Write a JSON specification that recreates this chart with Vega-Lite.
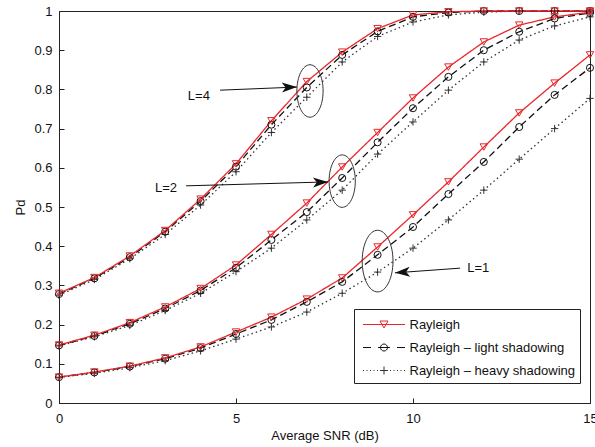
{
"$schema": "https://vega.github.io/schema/vega-lite/v6.json",
"width": 531, "height": 392,
"autosize": {"type": "none"},
"padding": {"left": 59, "top": 11, "right": 5, "bottom": 44},
"background": "white",
"config": {
  "font": "Liberation Sans",
  "view": {"stroke": "#222", "strokeWidth": 1},
  "axis": {"labelFontSize": 13, "titleFontSize": 13, "titleFontWeight": "normal", "labelColor": "#111", "titleColor": "#111", "domainColor": "#222", "tickColor": "#222", "grid": false, "labelFont": "Liberation Sans", "titleFont": "Liberation Sans", "tickSize": -5, "labelPadding": 14, "labelOverlap": false, "labelFlush": false}
},
"datasets": {
  "curves": [
    {"model":"Rayleigh – heavy shadowing","L":4,"x":0,"pd":0.275},{"model":"Rayleigh – heavy shadowing","L":4,"x":1,"pd":0.315},{"model":"Rayleigh – heavy shadowing","L":4,"x":2,"pd":0.368},{"model":"Rayleigh – heavy shadowing","L":4,"x":3,"pd":0.43},{"model":"Rayleigh – heavy shadowing","L":4,"x":4,"pd":0.505},{"model":"Rayleigh – heavy shadowing","L":4,"x":5,"pd":0.59},{"model":"Rayleigh – heavy shadowing","L":4,"x":6,"pd":0.69},{"model":"Rayleigh – heavy shadowing","L":4,"x":7,"pd":0.78},{"model":"Rayleigh – heavy shadowing","L":4,"x":8,"pd":0.87},{"model":"Rayleigh – heavy shadowing","L":4,"x":9,"pd":0.935},{"model":"Rayleigh – heavy shadowing","L":4,"x":10,"pd":0.972},{"model":"Rayleigh – heavy shadowing","L":4,"x":11,"pd":0.99},{"model":"Rayleigh – heavy shadowing","L":4,"x":12,"pd":0.997},{"model":"Rayleigh – heavy shadowing","L":4,"x":13,"pd":1},{"model":"Rayleigh – heavy shadowing","L":4,"x":14,"pd":1},{"model":"Rayleigh – heavy shadowing","L":4,"x":15,"pd":1},
    {"model":"Rayleigh – heavy shadowing","L":2,"x":0,"pd":0.146},{"model":"Rayleigh – heavy shadowing","L":2,"x":1,"pd":0.169},{"model":"Rayleigh – heavy shadowing","L":2,"x":2,"pd":0.198},{"model":"Rayleigh – heavy shadowing","L":2,"x":3,"pd":0.236},{"model":"Rayleigh – heavy shadowing","L":2,"x":4,"pd":0.28},{"model":"Rayleigh – heavy shadowing","L":2,"x":5,"pd":0.335},{"model":"Rayleigh – heavy shadowing","L":2,"x":6,"pd":0.395},{"model":"Rayleigh – heavy shadowing","L":2,"x":7,"pd":0.467},{"model":"Rayleigh – heavy shadowing","L":2,"x":8,"pd":0.543},{"model":"Rayleigh – heavy shadowing","L":2,"x":9,"pd":0.635},{"model":"Rayleigh – heavy shadowing","L":2,"x":10,"pd":0.717},{"model":"Rayleigh – heavy shadowing","L":2,"x":11,"pd":0.798},{"model":"Rayleigh – heavy shadowing","L":2,"x":12,"pd":0.87},{"model":"Rayleigh – heavy shadowing","L":2,"x":13,"pd":0.926},{"model":"Rayleigh – heavy shadowing","L":2,"x":14,"pd":0.962},{"model":"Rayleigh – heavy shadowing","L":2,"x":15,"pd":0.985},
    {"model":"Rayleigh – heavy shadowing","L":1,"x":0,"pd":0.065},{"model":"Rayleigh – heavy shadowing","L":1,"x":1,"pd":0.076},{"model":"Rayleigh – heavy shadowing","L":1,"x":2,"pd":0.09},{"model":"Rayleigh – heavy shadowing","L":1,"x":3,"pd":0.108},{"model":"Rayleigh – heavy shadowing","L":1,"x":4,"pd":0.133},{"model":"Rayleigh – heavy shadowing","L":1,"x":5,"pd":0.163},{"model":"Rayleigh – heavy shadowing","L":1,"x":6,"pd":0.194},{"model":"Rayleigh – heavy shadowing","L":1,"x":7,"pd":0.232},{"model":"Rayleigh – heavy shadowing","L":1,"x":8,"pd":0.28},{"model":"Rayleigh – heavy shadowing","L":1,"x":9,"pd":0.334},{"model":"Rayleigh – heavy shadowing","L":1,"x":10,"pd":0.395},{"model":"Rayleigh – heavy shadowing","L":1,"x":11,"pd":0.467},{"model":"Rayleigh – heavy shadowing","L":1,"x":12,"pd":0.543},{"model":"Rayleigh – heavy shadowing","L":1,"x":13,"pd":0.622},{"model":"Rayleigh – heavy shadowing","L":1,"x":14,"pd":0.7},{"model":"Rayleigh – heavy shadowing","L":1,"x":15,"pd":0.777},
    {"model":"Rayleigh – light shadowing","L":4,"x":0,"pd":0.278},{"model":"Rayleigh – light shadowing","L":4,"x":1,"pd":0.318},{"model":"Rayleigh – light shadowing","L":4,"x":2,"pd":0.372},{"model":"Rayleigh – light shadowing","L":4,"x":3,"pd":0.437},{"model":"Rayleigh – light shadowing","L":4,"x":4,"pd":0.515},{"model":"Rayleigh – light shadowing","L":4,"x":5,"pd":0.603},{"model":"Rayleigh – light shadowing","L":4,"x":6,"pd":0.71},{"model":"Rayleigh – light shadowing","L":4,"x":7,"pd":0.805},{"model":"Rayleigh – light shadowing","L":4,"x":8,"pd":0.888},{"model":"Rayleigh – light shadowing","L":4,"x":9,"pd":0.948},{"model":"Rayleigh – light shadowing","L":4,"x":10,"pd":0.985},{"model":"Rayleigh – light shadowing","L":4,"x":11,"pd":0.996},{"model":"Rayleigh – light shadowing","L":4,"x":12,"pd":1},{"model":"Rayleigh – light shadowing","L":4,"x":13,"pd":1},{"model":"Rayleigh – light shadowing","L":4,"x":14,"pd":1},{"model":"Rayleigh – light shadowing","L":4,"x":15,"pd":1},
    {"model":"Rayleigh – light shadowing","L":2,"x":0,"pd":0.147},{"model":"Rayleigh – light shadowing","L":2,"x":1,"pd":0.171},{"model":"Rayleigh – light shadowing","L":2,"x":2,"pd":0.202},{"model":"Rayleigh – light shadowing","L":2,"x":3,"pd":0.241},{"model":"Rayleigh – light shadowing","L":2,"x":4,"pd":0.287},{"model":"Rayleigh – light shadowing","L":2,"x":5,"pd":0.345},{"model":"Rayleigh – light shadowing","L":2,"x":6,"pd":0.416},{"model":"Rayleigh – light shadowing","L":2,"x":7,"pd":0.487},{"model":"Rayleigh – light shadowing","L":2,"x":8,"pd":0.574},{"model":"Rayleigh – light shadowing","L":2,"x":9,"pd":0.665},{"model":"Rayleigh – light shadowing","L":2,"x":10,"pd":0.752},{"model":"Rayleigh – light shadowing","L":2,"x":11,"pd":0.832},{"model":"Rayleigh – light shadowing","L":2,"x":12,"pd":0.9},{"model":"Rayleigh – light shadowing","L":2,"x":13,"pd":0.947},{"model":"Rayleigh – light shadowing","L":2,"x":14,"pd":0.981},{"model":"Rayleigh – light shadowing","L":2,"x":15,"pd":0.995},
    {"model":"Rayleigh – light shadowing","L":1,"x":0,"pd":0.066},{"model":"Rayleigh – light shadowing","L":1,"x":1,"pd":0.078},{"model":"Rayleigh – light shadowing","L":1,"x":2,"pd":0.093},{"model":"Rayleigh – light shadowing","L":1,"x":3,"pd":0.113},{"model":"Rayleigh – light shadowing","L":1,"x":4,"pd":0.14},{"model":"Rayleigh – light shadowing","L":1,"x":5,"pd":0.176},{"model":"Rayleigh – light shadowing","L":1,"x":6,"pd":0.212},{"model":"Rayleigh – light shadowing","L":1,"x":7,"pd":0.258},{"model":"Rayleigh – light shadowing","L":1,"x":8,"pd":0.309},{"model":"Rayleigh – light shadowing","L":1,"x":9,"pd":0.378},{"model":"Rayleigh – light shadowing","L":1,"x":10,"pd":0.449},{"model":"Rayleigh – light shadowing","L":1,"x":11,"pd":0.533},{"model":"Rayleigh – light shadowing","L":1,"x":12,"pd":0.615},{"model":"Rayleigh – light shadowing","L":1,"x":13,"pd":0.704},{"model":"Rayleigh – light shadowing","L":1,"x":14,"pd":0.786},{"model":"Rayleigh – light shadowing","L":1,"x":15,"pd":0.855},
    {"model":"Rayleigh","L":4,"x":0,"pd":0.28},{"model":"Rayleigh","L":4,"x":1,"pd":0.32},{"model":"Rayleigh","L":4,"x":2,"pd":0.375},{"model":"Rayleigh","L":4,"x":3,"pd":0.44},{"model":"Rayleigh","L":4,"x":4,"pd":0.52},{"model":"Rayleigh","L":4,"x":5,"pd":0.61},{"model":"Rayleigh","L":4,"x":6,"pd":0.72},{"model":"Rayleigh","L":4,"x":7,"pd":0.82},{"model":"Rayleigh","L":4,"x":8,"pd":0.895},{"model":"Rayleigh","L":4,"x":9,"pd":0.955},{"model":"Rayleigh","L":4,"x":10,"pd":0.99},{"model":"Rayleigh","L":4,"x":11,"pd":0.998},{"model":"Rayleigh","L":4,"x":12,"pd":1},{"model":"Rayleigh","L":4,"x":13,"pd":1},{"model":"Rayleigh","L":4,"x":14,"pd":1},{"model":"Rayleigh","L":4,"x":15,"pd":1},
    {"model":"Rayleigh","L":2,"x":0,"pd":0.148},{"model":"Rayleigh","L":2,"x":1,"pd":0.173},{"model":"Rayleigh","L":2,"x":2,"pd":0.205},{"model":"Rayleigh","L":2,"x":3,"pd":0.245},{"model":"Rayleigh","L":2,"x":4,"pd":0.292},{"model":"Rayleigh","L":2,"x":5,"pd":0.352},{"model":"Rayleigh","L":2,"x":6,"pd":0.43},{"model":"Rayleigh","L":2,"x":7,"pd":0.51},{"model":"Rayleigh","L":2,"x":8,"pd":0.602},{"model":"Rayleigh","L":2,"x":9,"pd":0.69},{"model":"Rayleigh","L":2,"x":10,"pd":0.778},{"model":"Rayleigh","L":2,"x":11,"pd":0.857},{"model":"Rayleigh","L":2,"x":12,"pd":0.921},{"model":"Rayleigh","L":2,"x":13,"pd":0.964},{"model":"Rayleigh","L":2,"x":14,"pd":0.985},{"model":"Rayleigh","L":2,"x":15,"pd":0.997},
    {"model":"Rayleigh","L":1,"x":0,"pd":0.066},{"model":"Rayleigh","L":1,"x":1,"pd":0.079},{"model":"Rayleigh","L":1,"x":2,"pd":0.094},{"model":"Rayleigh","L":1,"x":3,"pd":0.115},{"model":"Rayleigh","L":1,"x":4,"pd":0.143},{"model":"Rayleigh","L":1,"x":5,"pd":0.181},{"model":"Rayleigh","L":1,"x":6,"pd":0.219},{"model":"Rayleigh","L":1,"x":7,"pd":0.265},{"model":"Rayleigh","L":1,"x":8,"pd":0.319},{"model":"Rayleigh","L":1,"x":9,"pd":0.398},{"model":"Rayleigh","L":1,"x":10,"pd":0.48},{"model":"Rayleigh","L":1,"x":11,"pd":0.564},{"model":"Rayleigh","L":1,"x":12,"pd":0.653},{"model":"Rayleigh","L":1,"x":13,"pd":0.74},{"model":"Rayleigh","L":1,"x":14,"pd":0.816},{"model":"Rayleigh","L":1,"x":15,"pd":0.888}
  ],
  "ann": [
    {"L":4,"label":"L=4","lx":3.64,"ly":0.783,"ax1":4.55,"ay1":0.798,"ax2":6.72,"ay2":0.806,"ex":7.09,"ey":0.796},
    {"L":2,"label":"L=2","lx":2.71,"ly":0.548,"ax1":3.59,"ay1":0.554,"ax2":7.6,"ay2":0.564,"ex":8.0,"ey":0.566},
    {"L":1,"label":"L=1","lx":11.53,"ly":0.344,"ax1":11.33,"ay1":0.344,"ax2":9.49,"ay2":0.332,"ex":9.0,"ey":0.362}
  ],
  "keyrows": [
    {"series": "Rayleigh"}, {"series": "Rayleigh – light shadowing"}, {"series": "Rayleigh – heavy shadowing"}
  ]
},
"layer": [
  {
    "data": {"name": "curves"},
    "mark": {"type": "line", "strokeWidth": 1.3, "clip": false},
    "encoding": {
      "x": {"field": "x", "type": "quantitative", "scale": {"domain": [0, 15], "nice": false, "zero": false}, "axis": {"orient": "bottom", "values": [0, 5, 10, 15], "tickCount": 20, "title": "Average SNR (dB)", "titlePadding": 4, "labelOverlap": false}},
      "y": {"field": "pd", "type": "quantitative", "scale": {"domain": [0, 1], "nice": false}, "axis": {"orient": "left", "values": [0, 0.1, 0.2, 0.3, 0.4, 0.5, 0.6, 0.7, 0.8, 0.9, 1], "tickCount": 20, "format": "~g", "title": "Pd", "titlePadding": 6, "labelOverlap": false, "labelPadding": 12}},
      "color": {"field": "model", "type": "nominal", "scale": {"range": ["#e8262b", "#333333", "#111111"]}, "legend": null},
      "strokeDash": {"field": "model", "type": "nominal", "scale": {"range": [[1, 0], [1.5, 3], [7, 4]]}, "legend": null},
      "detail": {"field": "L", "type": "nominal"}
    }
  },
  {
    "data": {"name": "curves"},
    "transform": [{"filter": "datum.model === 'Rayleigh – heavy shadowing'"}],
    "mark": {"type": "point", "filled": false, "shape": "M-1,0L1,0M0,-1L0,1", "size": 55, "strokeWidth": 1, "opacity": 1, "color": "#333333", "clip": false},
    "encoding": {"x": {"field": "x", "type": "quantitative"}, "y": {"field": "pd", "type": "quantitative"}}
  },
  {
    "data": {"name": "curves"},
    "transform": [{"filter": "datum.model === 'Rayleigh – light shadowing'"}],
    "mark": {"type": "point", "filled": false, "shape": "circle", "size": 50, "strokeWidth": 1, "opacity": 1, "color": "#111111", "clip": false},
    "encoding": {"x": {"field": "x", "type": "quantitative"}, "y": {"field": "pd", "type": "quantitative"}}
  },
  {
    "data": {"name": "curves"},
    "transform": [{"filter": "datum.model === 'Rayleigh'"}],
    "mark": {"type": "point", "filled": false, "shape": "triangle-down", "size": 55, "strokeWidth": 1, "opacity": 1, "color": "#e8262b", "clip": false},
    "encoding": {"x": {"field": "x", "type": "quantitative"}, "y": {"field": "pd", "type": "quantitative"}}
  },
  {
    "data": {"name": "keyrows"},
    "mark": {"type": "point", "filled": false, "opacity": 0, "strokeWidth": 1},
    "encoding": {
      "stroke": {"field": "series", "type": "nominal", "scale": {"domain": ["Rayleigh", "Rayleigh – light shadowing", "Rayleigh – heavy shadowing"], "range": ["#e8262b", "#111111", "#333333"]},
        "legend": {"orient": "none", "legendX": 295, "legendY": 298, "title": null, "symbolSize": 400, "symbolOffset": 14.5, "labelOffset": 15, "padding": 5, "rowPadding": 5, "strokeColor": "#222", "fillColor": "white", "labelFontSize": 13, "labelFont": "Liberation Sans", "labelColor": "#111", "labelLimit": 400, "symbolStrokeWidth": 1, "symbolOpacity": 1}},
      "shape": {"field": "series", "type": "nominal", "scale": {"domain": ["Rayleigh", "Rayleigh – light shadowing", "Rayleigh – heavy shadowing"], "range": [
          "M-2.1,0L2.1,0M-0.4,-0.35L0.4,-0.35L0,0.35Z",
          "M-2.1,0L-1.3,0M-0.6,0L0.6,0M1.3,0L2.1,0M-0.35,0A0.35,0.35 0 1,0 0.35,0A0.35,0.35 0 1,0 -0.35,0Z",
          "M-2.1,0L-2,0M-1.75,0L-1.65,0M-1.4,0L-1.3,0M-1.05,0L-0.95,0M-0.7,0L-0.6,0M0.6,0L0.7,0M0.95,0L1.05,0M1.3,0L1.4,0M1.65,0L1.75,0M2,0L2.1,0M-0.4,0L0.4,0M0,-0.4L0,0.4"]},
        "legend": {"orient": "none", "legendX": 295, "legendY": 298, "title": null, "symbolSize": 400, "symbolOffset": 14.5, "labelOffset": 15, "padding": 5, "rowPadding": 5, "strokeColor": "#222", "fillColor": "white", "labelFontSize": 13, "labelFont": "Liberation Sans", "labelColor": "#111", "labelLimit": 400, "symbolStrokeWidth": 1, "symbolOpacity": 1}}
    }
  },
  {
    "data": {"name": "ann"},
    "mark": {"type": "point", "filled": false, "shape": "M0,-1A0.5,1 0 1,1 0,1A0.5,1 0 1,1 0,-1Z", "stroke": "#333", "strokeWidth": 1, "opacity": 1, "clip": false},
    "encoding": {
      "x": {"field": "ex", "type": "quantitative"},
      "y": {"field": "ey", "type": "quantitative"},
      "size": {"condition": {"test": "datum.L == 1", "value": 3800}, "value": 2750}
    }
  },
  {
    "data": {"name": "ann"},
    "mark": {"type": "rule", "color": "#111", "strokeWidth": 1},
    "encoding": {
      "x": {"field": "ax1", "type": "quantitative"},
      "y": {"field": "ay1", "type": "quantitative"},
      "x2": {"field": "ax2"},
      "y2": {"field": "ay2"}
    }
  },
  {
    "data": {"name": "ann"},
    "mark": {"type": "point", "filled": true, "shape": "M0,0L-1,-0.33L-0.75,0L-1,0.33Z", "color": "#111", "opacity": 1, "size": 900},
    "encoding": {
      "x": {"field": "ax2", "type": "quantitative"},
      "y": {"field": "ay2", "type": "quantitative"},
      "angle": {"condition": {"test": "datum.L == 1", "value": 176}, "value": -2}
    }
  },
  {
    "data": {"name": "ann"},
    "mark": {"type": "text", "align": "left", "baseline": "middle", "fontSize": 13, "font": "Liberation Sans", "color": "#111"},
    "encoding": {
      "x": {"field": "lx", "type": "quantitative"},
      "y": {"field": "ly", "type": "quantitative"},
      "text": {"field": "label"}
    }
  }
]
}
